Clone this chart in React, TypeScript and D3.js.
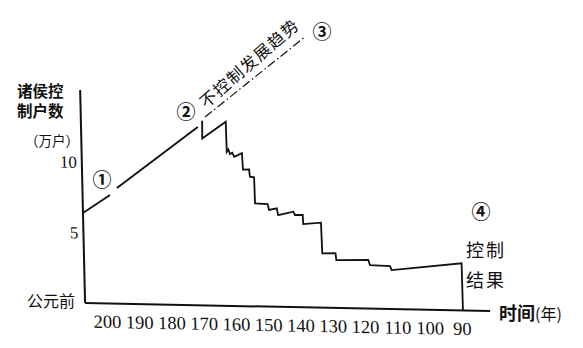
import React from "react";
import * as d3 from "d3";

// ---- data (years BC, households in 10k) ----
const xTickLabels = [200, 190, 180, 170, 160, 150, 140, 130, 120, 110, 100, 90];
const yTickLabels = [5, 10];

// uncontrolled growth (solid, broken around label ①)
const growthYears1 = [206.8, 198.3];
const growthVals1 = [6.38, 7.7];
const growthYears2 = [196.1, 170.6];
const growthVals2 = [8.2, 12.64];

// projected trend without control (dash-dot)
const trendYears = [168.3, 136.8];
const trendVals = [13.36, 19.18];

// controlled result
const ctrlYears = [169.2, 169.3, 161.9, 161.8, 161.3, 160.8, 160.1, 159.5, 158.4, 157.1, 156.9, 155.0, 154.8, 153.5, 153.4, 149.5, 149.1, 146.7, 146.3, 141.6, 141.1, 138.7, 138.6, 133.1, 132.9, 128.8, 128.6, 118.7, 118.2, 112.0, 111.5, 89.8, 89.7];
const ctrlVals = [13.09, 11.84, 13.06, 10.93, 11.1, 10.77, 10.87, 10.59, 10.71, 10.86, 9.68, 9.7, 9.19, 9.15, 7.31, 7.28, 6.86, 6.99, 6.51, 6.77, 6.54, 6.55, 5.91, 6.03, 3.86, 3.88, 3.4, 3.45, 3.09, 3.05, 2.77, 3.35, 0];

const circledLabels = ["①", "②", "③", "④"];

const W = 583;
const H = 348;

export default function App() {
  const x = d3.scaleLinear().domain([200, 90]).range([107, 462]);
  const y = d3.scaleLinear().domain([0, 10]).range([303, 162]);
  const line = d3
    .line<[number, number]>()
    .x((d) => x(d[0]))
    .y((d) => y(d[1]));
  const zip = (a: number[], b: number[]) => a.map((v, i) => [v, b[i]] as [number, number]);

  const x0 = x(206.8);
  const y0 = y(0);
  // slight scan skew
  const a = 0.023;
  const b = 0.0198;
  const skew = `translate(${x0},${y0}) matrix(1,${b},${a},1,0,0) translate(${-x0},${-y0})`;

  const serif = "'Liberation Serif', 'DejaVu Serif', serif";
  const cjk = "'Noto Sans CJK SC', sans-serif";
  const ink = "#111";

  const circlePos = [
    [102, 187],
    [186, 119],
    [322, 39],
    [481, 219],
  ];

  return (
    <svg
      width={W}
      height={H}
      style={{ position: "absolute", left: 0, top: 0, background: "#fff" }}
    >
      <rect width={W} height={H} fill="#fff" />
      <g transform={skew}>
        {/* axes */}
        <line x1={x0} y1={y(15.1)} x2={x0} y2={y0} stroke={ink} strokeWidth={2} />
        <line x1={x0} y1={y0} x2={x(81.3)} y2={y0} stroke={ink} strokeWidth={2} />
        {xTickLabels.map((t) => (
          <text
            key={t}
            x={x(t)}
            y={327.5}
            textAnchor="middle"
            fontFamily={serif}
            fontSize={18.5}
            fill={ink}
          >
            {t}
          </text>
        ))}
        {yTickLabels.map((t) => (
          <text
            key={t}
            x={80}
            y={y(t) + 6}
            textAnchor="end"
            fontFamily={serif}
            fontSize={17}
            fill={ink}
          >
            {t}
          </text>
        ))}
        {/* series */}
        <path d={line(zip(growthYears1, growthVals1)) || ""} fill="none" stroke={ink} strokeWidth={1.8} />
        <path d={line(zip(growthYears2, growthVals2)) || ""} fill="none" stroke={ink} strokeWidth={1.8} />
        <path
          d={line(zip(trendYears, trendVals)) || ""}
          fill="none"
          stroke={ink}
          strokeWidth={1.2}
          strokeDasharray="9 3 1.5 3"
        />
        <path
          d={line(zip(ctrlYears, ctrlVals)) || ""}
          fill="none"
          stroke={ink}
          strokeWidth={1.8}
          strokeLinejoin="miter"
        />
      </g>

      {/* y-axis title */}
      <text x={17} y={97} fontFamily={cjk} fontWeight="bold" fontSize={15.5} fill={ink}>
        诸侯控
      </text>
      <text x={17} y={117} fontFamily={cjk} fontWeight="bold" fontSize={15.5} fill={ink}>
        制户数
      </text>
      <text x={25} y={146} fontFamily={cjk} fontSize={14} fill={ink} textLength={54} lengthAdjust="spacingAndGlyphs">
        （万户）
      </text>
      <text x={27} y={307} fontFamily={cjk} fontSize={16} fill={ink}>
        公元前
      </text>

      {/* circled markers */}
      {circledLabels.map((c, i) => (
        <text
          key={c}
          x={circlePos[i][0]}
          y={circlePos[i][1]}
          textAnchor="middle"
          fontFamily={cjk}
          fontSize={19}
          fontWeight="bold"
          fill={ink}
        >
          {c}
        </text>
      ))}

      {/* trend label */}
      <text
        transform="translate(206,109) rotate(-41)"
        fontFamily={cjk}
        fontSize={16.5}
        fill={ink}
        textLength={124}
        lengthAdjust="spacing"
      >
        不控制发展趋势
      </text>

      {/* control result */}
      <text x={466} y={257} fontFamily={cjk} fontSize={18} fill={ink} letterSpacing={2}>
        控制
      </text>
      <text x={466} y={287} fontFamily={cjk} fontSize={18} fill={ink} letterSpacing={2}>
        结果
      </text>

      {/* x-axis title */}
      <text x={499} y={320} fontFamily={cjk} fontSize={18} fill={ink}>
        <tspan fontWeight="bold">时间</tspan>
        <tspan fontSize={16}>(年)</tspan>
      </text>
    </svg>
  );
}
